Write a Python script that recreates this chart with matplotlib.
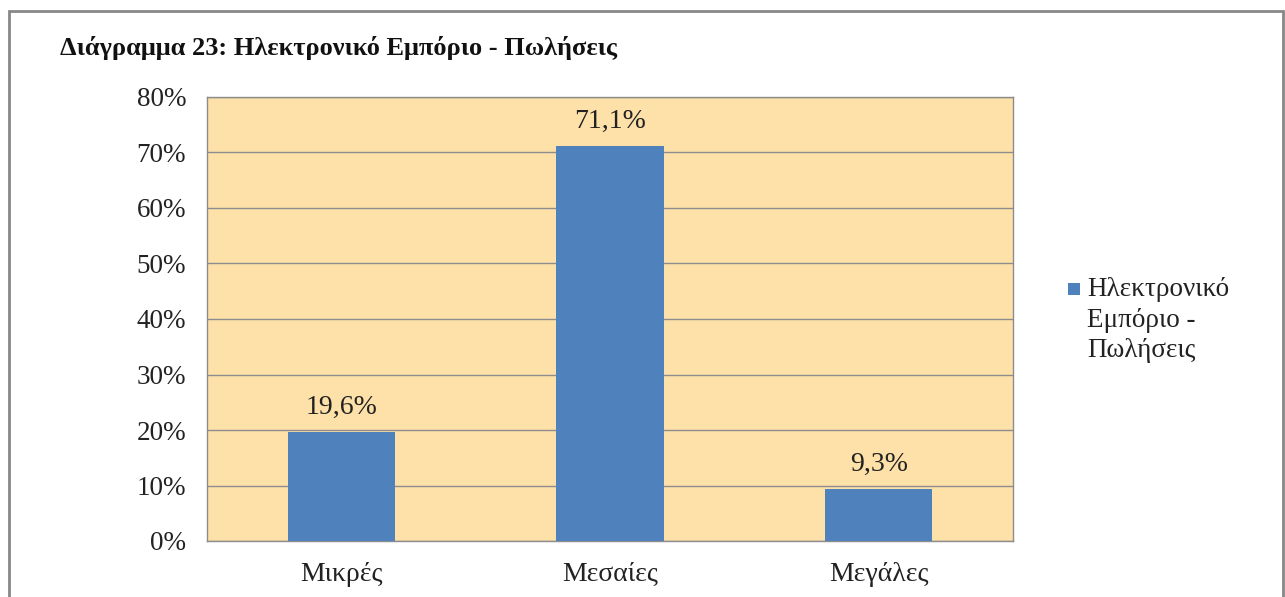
import matplotlib.pyplot as plt
from matplotlib.patches import Rectangle
from matplotlib.ticker import FuncFormatter

categories = ['Μικρές', 'Μεσαίες', 'Μεγάλες']
values = [19.6, 71.1, 9.3]
series_name = 'Ηλεκτρονικό\nΕμπόριο -\nΠωλήσεις'
title = 'Διάγραμμα 23: Ηλεκτρονικό Εμπόριο - Πωλήσεις'

plt.rcParams['font.family'] = ['Liberation Serif', 'DejaVu Serif']

bar_color = '#4F81BD'
bg_color = '#FEE1A9'
grid_color = '#8C8C8C'

fig = plt.figure(figsize=(12.85, 5.97), dpi=100)
ax = fig.add_axes([207/1285, 1 - 541/597, 806/1285, 444/597])
ax.set_facecolor(bg_color)

x = range(len(categories))
bars = ax.bar(x, values, width=0.4, color=bar_color, zorder=3)
for b, v in zip(bars, values):
    ax.annotate(f'{v:.1f}%'.replace('.', ','), (b.get_x() + b.get_width() / 2, v),
                xytext=(0, 9), textcoords='offset points',
                ha='center', va='bottom', fontsize=20, color='#222222')

ax.set_xlim(-0.5, 2.5)
ax.set_ylim(0, 80)
ax.set_yticks(range(0, 81, 10))
ax.yaxis.set_major_formatter(FuncFormatter(lambda v, p: f'{v:.0f}%'))
ax.set_xticks(list(x))
ax.set_xticklabels(categories)
ax.tick_params(axis='y', length=0, pad=15, labelsize=19.5, labelcolor='#222222')
ax.tick_params(axis='x', length=0, pad=15, labelsize=20, labelcolor='#222222')
ax.grid(axis='y', color=grid_color, linewidth=1, zorder=1)
for s in ax.spines.values():
    s.set_color(grid_color)
    s.set_linewidth(1)

fig.text(60/1285, 1 - 48/597, title, fontsize=19, fontweight='bold',
         ha='left', va='center', color='#111111')

# legend
fig.patches.append(Rectangle((1068/1285, 1 - 295/597), 12/1285, 12/597,
                             transform=fig.transFigure, facecolor=bar_color,
                             edgecolor='none'))
fig.text(1087/1285, 1 - 277/597, series_name, fontsize=19.5, ha='left', va='top',
         linespacing=1.3, color='#222222')

# outer frame
fig.patches.append(Rectangle((9/1285, -0.01), 1274/1285, 1 - 11/597 + 0.01,
                             transform=fig.transFigure, fill=False,
                             edgecolor='#878787', linewidth=2))

fig.savefig('out.png', dpi=100)
